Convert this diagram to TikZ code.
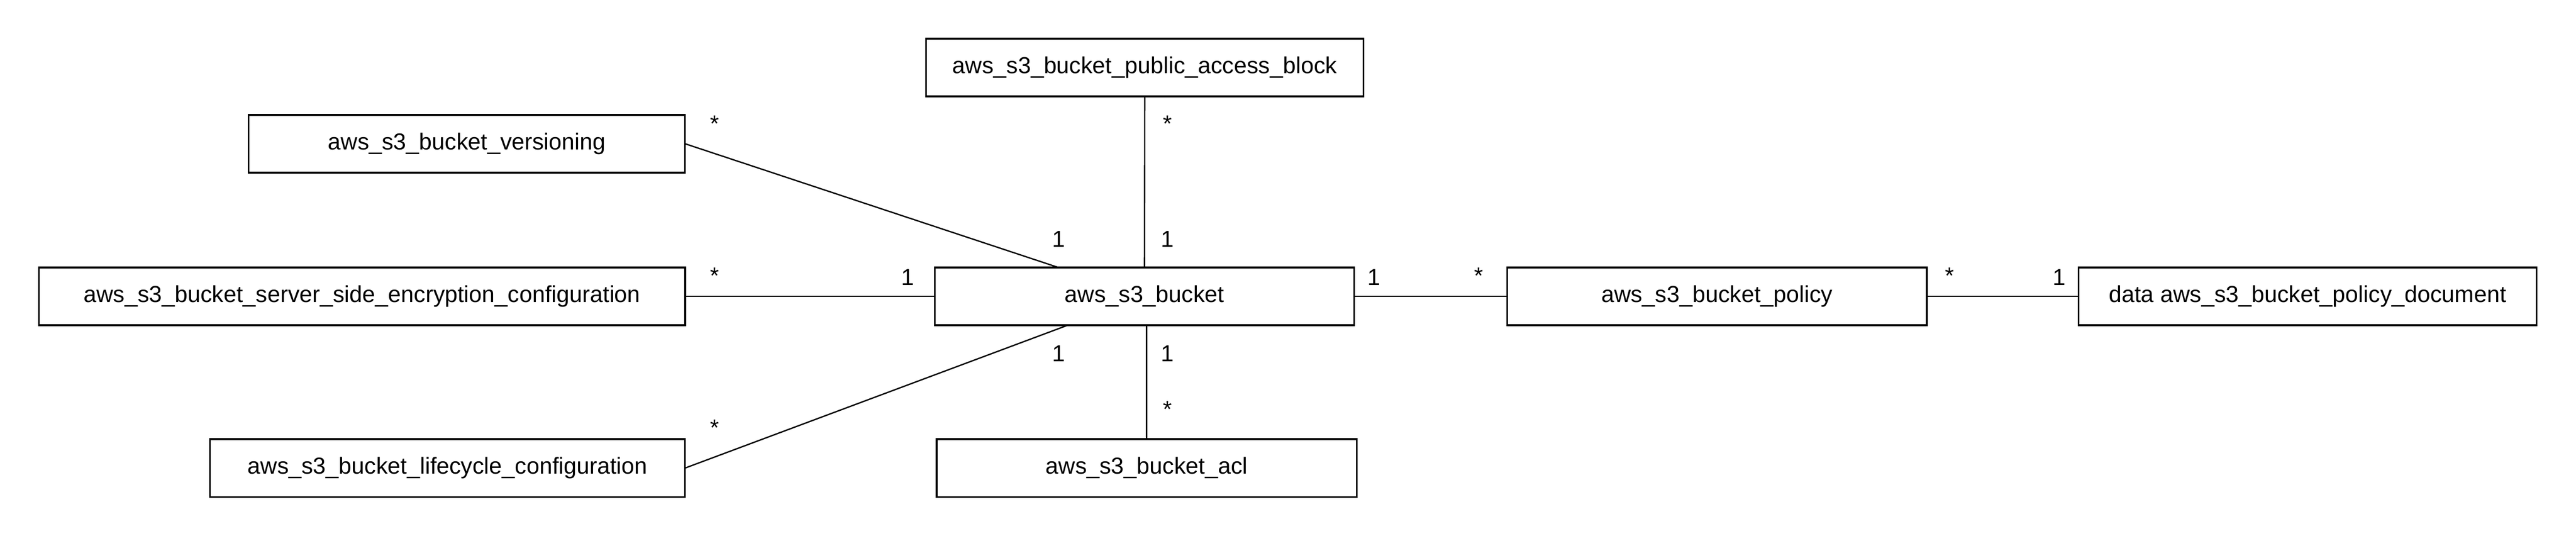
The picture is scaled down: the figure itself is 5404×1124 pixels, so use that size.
\documentclass[tikz,border=0pt]{standalone}
\usepackage{fontspec}
\setmainfont{Liberation Sans}
\usepackage{tikz}
\usetikzlibrary{positioning,calc}
\tikzset{
  res/.style={draw, line width=1pt, inner sep=0pt, outer sep=0pt, minimum height=1.21cm,
    font=\fontsize{13.8pt}{16pt}\selectfont},
  mult/.style={inner sep=0pt, font=\fontsize{13.8pt}{16pt}\selectfont},
  assoc/.style={line width=0.8pt}
}
\begin{document}
\begin{tikzpicture}[x=0.01cm, y=-0.01cm]
\useasboundingbox (0,0) rectangle (5404,1124);

\node[res, minimum width=8.80cm] (bucket) at (2401,621.5) {aws\_s3\_bucket};
\node[res, minimum width=9.17cm] (pab) at (2401.5,141.5) {aws\_s3\_bucket\_public\_access\_block};
\node[res, minimum width=9.15cm] (vers) at (979.5,301.5) {aws\_s3\_bucket\_versioning};
\node[res, minimum width=13.55cm] (sse) at (759.5,621.5) {aws\_s3\_bucket\_server\_side\_encryption\_configuration};
\node[res, minimum width=9.96cm] (life) at (939,981.5) {aws\_s3\_bucket\_lifecycle\_configuration};
\node[res, minimum width=8.81cm] (acl) at (2405.5,981.5) {aws\_s3\_bucket\_acl};
\node[res, minimum width=8.80cm] (pol) at (3602,621.5) {aws\_s3\_bucket\_policy};
\node[res, minimum width=9.60cm] (doc) at (4841,621.5) {data aws\_s3\_bucket\_policy\_document};

% associations
\draw[assoc] (vers.east) -- ($(bucket.north west)!0.295!(bucket.north east)$);
\draw[assoc] (sse.east) -- (bucket.west);
\draw[assoc] (life.east) -- ($(bucket.south west)!0.317!(bucket.south east)$);
\draw[assoc] (pab.south) -- (bucket.north);
\draw[assoc] (acl.north) -- (acl.north |- bucket.south);
\draw[assoc] (bucket.east) -- (pol.west);
\draw[assoc] (pol.east) -- (doc.west);

% multiplicities
\node[mult] (mvers) at (1499,259) {*};
\node[mult] (msse) at (1499,578) {*};
\node[mult] (mlife) at (1499,897) {*};
\node[mult] (bsse) at (1904,581) {1};
\node[mult] (bvers) at (2221,502) {1};
\node[mult] (bpab) at (2449,502) {1};
\node[mult] (mpab) at (2449,259) {*};
\node[mult] (blife) at (2221,742) {1};
\node[mult] (bacl) at (2449,742) {1};
\node[mult] (macl) at (2449,858) {*};
\node[mult] (bpol) at (2882,581) {1};
\node[mult] (mpol) at (3102,578) {*};
\node[mult] (mdoc) at (4090,578) {*};
\node[mult] (bdoc) at (4320,581) {1};

\end{tikzpicture}
\end{document}
